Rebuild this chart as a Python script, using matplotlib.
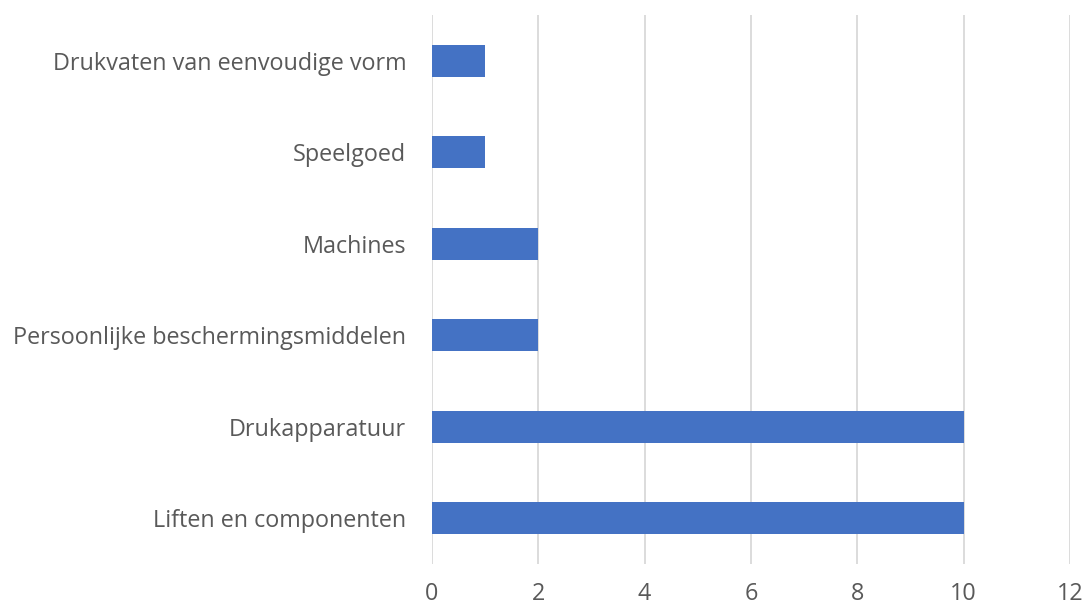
import matplotlib
matplotlib.use("Agg")
import matplotlib.pyplot as plt

# Categorieën en aantallen (van onder naar boven)
categories = [
    "Liften en componenten",
    "Drukapparatuur",
    "Persoonlijke beschermingsmiddelen",
    "Machines",
    "Speelgoed",
    "Drukvaten van eenvoudige vorm",
]
counts = [10, 10, 2, 2, 1, 1]
x_ticks = [0, 2, 4, 6, 8, 10, 12]

plt.rcParams['font.family'] = ['Open Sans', 'DejaVu Sans']

fig = plt.figure(figsize=(10.84, 6.08), dpi=100)
ax = fig.add_axes([0.3985, 0.0725, 0.5886, 0.9025])

ax.barh(range(len(categories)), counts, height=0.35, color="#4472C4", zorder=3)

ax.set_xlim(0, 12)
ax.set_ylim(-0.5, len(categories) - 0.5)
ax.set_xticks(x_ticks)
ax.set_yticks(range(len(categories)))
ax.set_yticklabels(categories)

ax.grid(axis="x", color="#D9D9D9", linewidth=1.3, zorder=0)
for s in ax.spines.values():
    s.set_visible(False)
ax.tick_params(axis="both", length=0, labelsize=16.8, colors="#595959")
ax.tick_params(axis="x", pad=13)
ax.tick_params(axis="y", pad=18.5)

fig.savefig("out.png", dpi=100)
